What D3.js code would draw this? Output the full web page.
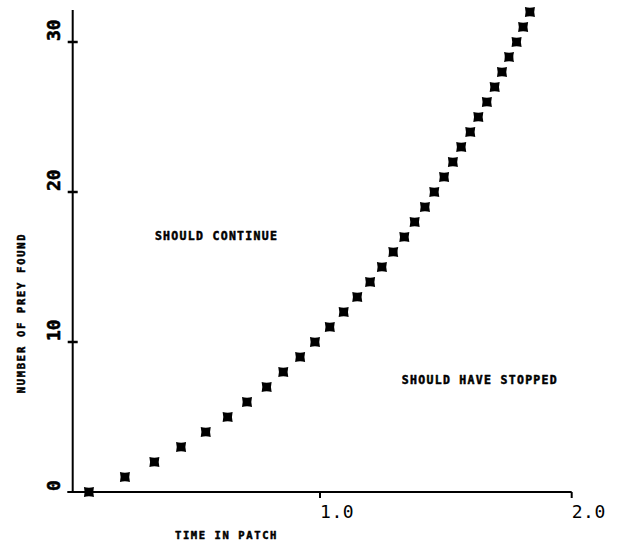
<!DOCTYPE html>
<html>
<head>
<meta charset="utf-8">
<script src="https://cdn.jsdelivr.net/npm/d3@7"></script>
<style>
  html, body { margin: 0; padding: 0; background: #fff; }
  svg { display: block; }
</style>
</head>
<body>
<svg id="chart" width="621" height="546"></svg>
<script>
// Cumulative prey found against time spent in the patch
const preyFound = [0, 1, 2, 3, 4, 5, 6, 7, 8, 9, 10, 11, 12, 13, 14, 15, 16,
  17, 18, 19, 20, 21, 22, 23, 24, 25, 26, 27, 28, 29, 30, 31, 32];
const timeInPatch = [0.082, 0.225, 0.342, 0.448, 0.546, 0.633, 0.710, 0.788,
  0.854, 0.921, 0.980, 1.039, 1.094, 1.148, 1.199, 1.246, 1.291, 1.335, 1.376,
  1.417, 1.454, 1.493, 1.528, 1.561, 1.597, 1.629, 1.663, 1.694, 1.723, 1.751,
  1.781, 1.807, 1.834];

const xTicks = [1.0, 2.0];
const xTickLabels = ["1.0", "2.0"];
const yTicks = [0, 10, 20, 30];
const yTickLabels = ["0", "10", "20", "30"];

const xTitle = "TIME IN PATCH";
const yTitle = "NUMBER OF PREY FOUND";
const regionLabels = [
  { text: "SHOULD CONTINUE", t: 0.344, n: 16.8 },
  { text: "SHOULD HAVE STOPPED", t: 1.325, n: 7.2 }
];

const xDomain = [0, 2];
const yDomain = [0, 32];
const yAxisAt = 0.0175;   // where the vertical axis crosses the time axis
const yAxisTop = 32.13;

const svg = d3.select("#chart");
const x = d3.scaleLinear().domain(xDomain).range([68.3, 571.7]);
const y = d3.scaleLinear().domain(yDomain).range([492, 12]);

const ink = "#000";
const mono = "'DejaVu Sans Mono', 'Liberation Mono', monospace";

// plotter-style heavy lettering
function heavy(sel, w) {
  return sel.attr("font-family", mono).attr("font-weight", "bold")
    .attr("fill", ink).attr("stroke", ink).attr("stroke-width", w)
    .attr("stroke-linejoin", "round");
}

// time axis
const gx = svg.append("g").attr("transform", `translate(0,${y(0)})`);
gx.append("line")
  .attr("x1", x(xDomain[0]) - 1).attr("x2", x(xDomain[1]))
  .attr("stroke", ink).attr("stroke-width", 2);
gx.selectAll("line.tick").data(xTicks).join("line")
  .attr("class", "tick")
  .attr("x1", d => x(d)).attr("x2", d => x(d))
  .attr("y1", 0).attr("y2", 6)
  .attr("stroke", ink).attr("stroke-width", 2);
gx.selectAll("text").data(xTicks).join("text")
  .attr("x", d => x(d)).attr("y", 26)
  .attr("font-family", mono).attr("font-size", 18)
  .attr("letter-spacing", 0.6)
  .attr("fill", ink)
  .text((d, i) => xTickLabels[i]);

// prey axis
const gy = svg.append("g").attr("transform", `translate(${x(yAxisAt)},0)`);
gy.append("line")
  .attr("y1", y(0)).attr("y2", y(yAxisTop))
  .attr("stroke", ink).attr("stroke-width", 2);
gy.selectAll("line.tick").data(yTicks.filter(d => d > 0)).join("line")
  .attr("class", "tick")
  .attr("x1", -5).attr("x2", 5)
  .attr("y1", d => y(d)).attr("y2", d => y(d))
  .attr("stroke", ink).attr("stroke-width", 2.5);
heavy(gy.selectAll("text").data(yTicks).join("text"), 0.6)
  .attr("transform", d => `translate(-13,${y(d) - 1}) rotate(-90)`)
  .attr("text-anchor", "start")
  .attr("font-size", 18)
  .text((d, i) => yTickLabels[i]);

// axis titles
heavy(svg.append("text"), 0.5)
  .attr("x", 175).attr("y", 539)
  .attr("font-size", 10.5)
  .attr("letter-spacing", 1.6)
  .text(xTitle);
heavy(svg.append("text"), 0.5)
  .attr("transform", `translate(25,313) rotate(-90)`)
  .attr("text-anchor", "middle")
  .attr("font-size", 10.5)
  .attr("letter-spacing", 1.7)
  .text(yTitle);

// region annotations
heavy(svg.selectAll("text.region").data(regionLabels).join("text"), 0.5)
  .attr("class", "region")
  .attr("x", d => x(d.t)).attr("y", d => y(d.n))
  .attr("font-size", 11.5)
  .attr("letter-spacing", 1.3)
  .text(d => d.text);

// plotted points: small square markers with pinched sides
const marker = "M-5,-5 Q0,-3.6 5,-5 Q3.6,0 5,5 Q0,3.6 -5,5 Q-3.6,0 -5,-5 Z";
svg.append("g").selectAll("path").data(preyFound).join("path")
  .attr("transform", (d, i) => `translate(${x(timeInPatch[i])},${y(d)})`)
  .attr("d", marker)
  .attr("fill", ink);
</script>
</body>
</html>
